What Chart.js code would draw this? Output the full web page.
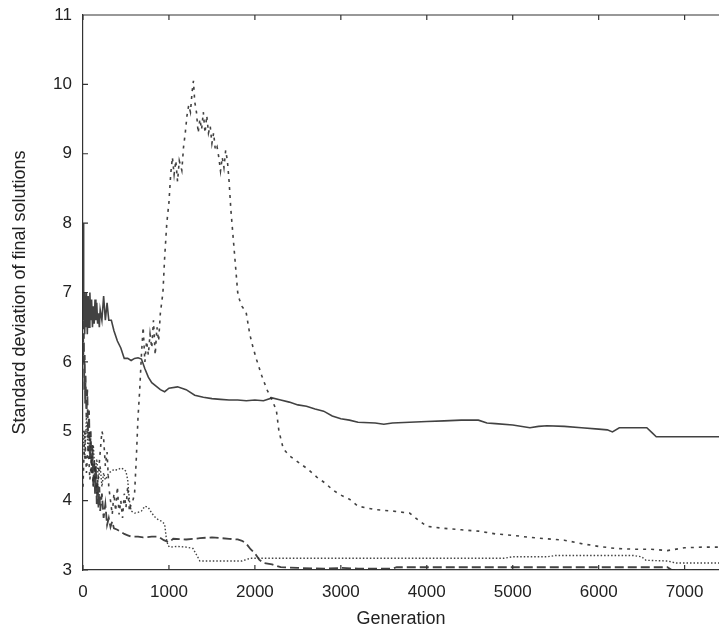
<!DOCTYPE html>
<html>
<head>
<meta charset="utf-8">
<script src="https://cdn.jsdelivr.net/npm/chart.js@4"></script>
<style>
  html, body { margin: 0; padding: 0; background: #fff; }
  #wrap { width: 719px; height: 630px; }
</style>
</head>
<body>
<div id="wrap"><canvas id="sdChart" width="719" height="630"></canvas></div>
<script>
// tick labels
const xTicks = [0, 1000, 2000, 3000, 4000, 5000, 6000, 7000];
const yTicks = [3, 4, 5, 6, 7, 8, 9, 10, 11];

// solid line
const solidGen = [0, 5, 10, 15, 20, 25, 30, 40, 50, 60, 70, 80, 90, 100, 110, 120, 130, 140, 150, 160, 170, 180, 190, 200, 220, 240, 260, 280, 300, 330, 360, 400, 440, 480, 520, 560, 600, 640, 680, 720, 760, 800, 850, 900, 950, 1000, 1100, 1200, 1300, 1400, 1500, 1600, 1700, 1800, 1900, 2000, 2100, 2200, 2300, 2400, 2500, 2600, 2700, 2800, 2900, 3000, 3100, 3200, 3400, 3500, 3600, 3800, 4000, 4200, 4400, 4600, 4700, 4800, 5000, 5200, 5300, 5400, 5600, 5800, 6000, 6100, 6160, 6240, 6400, 6560, 6620, 6670, 6800, 7000, 7200, 7400];
const solidVal = [8.0, 7.2, 6.6, 7.0, 6.4, 6.9, 6.5, 7.0, 6.4, 6.95, 6.5, 7.0, 6.6, 6.9, 6.5, 6.8, 6.55, 6.9, 6.6, 6.85, 6.55, 6.7, 6.5, 6.75, 6.6, 6.95, 6.6, 6.85, 6.6, 6.6, 6.45, 6.3, 6.2, 6.05, 6.05, 6.02, 6.05, 6.06, 6.04, 5.9, 5.78, 5.7, 5.65, 5.6, 5.57, 5.62, 5.64, 5.6, 5.52, 5.49, 5.47, 5.46, 5.45, 5.45, 5.44, 5.45, 5.44, 5.48, 5.45, 5.42, 5.38, 5.36, 5.32, 5.29, 5.22, 5.18, 5.16, 5.13, 5.12, 5.10, 5.12, 5.13, 5.14, 5.15, 5.16, 5.16, 5.12, 5.11, 5.09, 5.05, 5.07, 5.08, 5.07, 5.05, 5.03, 5.02, 4.99, 5.05, 5.05, 5.05, 4.98, 4.92, 4.92, 4.92, 4.92, 4.92];

// short dashed line (the big peak)
const peakGen = [0, 20, 40, 60, 80, 100, 120, 140, 160, 180, 200, 220, 240, 260, 280, 300, 320, 340, 360, 380, 400, 420, 440, 460, 480, 500, 520, 540, 560, 580, 600, 620, 640, 660, 680, 700, 720, 740, 760, 780, 800, 820, 840, 860, 880, 900, 930, 950, 975, 1000, 1020, 1040, 1060, 1080, 1100, 1120, 1150, 1170, 1190, 1210, 1230, 1250, 1270, 1285, 1300, 1320, 1340, 1360, 1380, 1400, 1420, 1440, 1460, 1480, 1500, 1520, 1540, 1560, 1580, 1600, 1620, 1640, 1660, 1680, 1700, 1720, 1740, 1760, 1780, 1800, 1820, 1850, 1880, 1900, 1940, 1980, 2020, 2080, 2140, 2200, 2250, 2280, 2330, 2400, 2520, 2620, 2720, 2820, 2910, 3000, 3100, 3200, 3400, 3600, 3800, 3900, 4000, 4200, 4400, 4600, 4800, 5000, 5200, 5400, 5600, 5800, 6000, 6200, 6400, 6600, 6800, 7000, 7200, 7400];
const peakVal = [4.2, 5.0, 4.4, 4.8, 4.3, 4.6, 4.2, 4.5, 4.1, 4.4, 4.7, 5.0, 4.9, 4.5, 4.7, 4.2, 4.0, 3.8, 4.1, 3.85, 4.2, 3.8, 4.0, 3.75, 4.1, 3.9, 4.2, 3.85, 3.95, 4.0, 4.1, 4.6, 5.2, 5.6, 6.1, 6.5, 6.0, 6.3, 6.1, 6.4, 6.2, 6.6, 6.1, 6.5, 6.3, 6.7, 7.0, 7.5, 8.0, 8.3, 8.7, 8.95, 8.7, 8.9, 8.6, 8.9, 8.76, 9.1, 9.3, 9.55, 9.7, 9.6, 9.9, 10.05, 9.75, 9.6, 9.3, 9.5, 9.35, 9.6, 9.3, 9.55, 9.3, 9.4, 9.15, 9.3, 9.05, 9.1, 8.95, 8.75, 8.95, 8.8, 9.05, 8.9, 8.6, 8.2, 7.9, 7.6, 7.3, 7.0, 6.9, 6.8, 6.75, 6.7, 6.4, 6.2, 6.03, 5.8, 5.6, 5.45, 5.3, 5.0, 4.75, 4.65, 4.54, 4.45, 4.34, 4.25, 4.15, 4.08, 4.02, 3.92, 3.87, 3.85, 3.82, 3.72, 3.63, 3.6, 3.58, 3.56, 3.52, 3.5, 3.47, 3.45, 3.43, 3.38, 3.34, 3.31, 3.3, 3.3, 3.28, 3.32, 3.33, 3.33];

// dotted line
const dotGen = [0, 20, 40, 60, 80, 100, 120, 140, 160, 180, 200, 220, 240, 260, 280, 300, 330, 360, 400, 440, 480, 500, 520, 540, 560, 600, 640, 680, 720, 760, 800, 840, 880, 920, 950, 970, 990, 1010, 1100, 1200, 1280, 1320, 1360, 1500, 1700, 1850, 1900, 1950, 2200, 2600, 3000, 3400, 3800, 4200, 4600, 4900, 5000, 5400, 5500, 6000, 6400, 6500, 6550, 6800, 6900, 7400];
const dotVal = [5.0, 4.6, 5.2, 4.7, 5.0, 4.5, 4.8, 4.4, 4.6, 4.3, 4.5, 4.2, 4.4, 4.3, 4.35, 4.4, 4.42, 4.45, 4.44, 4.47, 4.45, 4.42, 4.3, 4.0, 3.85, 3.82, 3.83, 3.85, 3.92, 3.9, 3.82, 3.76, 3.72, 3.7, 3.66, 3.45, 3.35, 3.33, 3.34, 3.33, 3.31, 3.22, 3.13, 3.13, 3.13, 3.13, 3.15, 3.17, 3.17, 3.17, 3.17, 3.17, 3.17, 3.17, 3.17, 3.17, 3.19, 3.19, 3.21, 3.21, 3.21, 3.19, 3.14, 3.13, 3.1, 3.1];

// long dashed line
const longGen = [0, 5, 10, 15, 20, 25, 30, 40, 50, 60, 70, 80, 90, 100, 110, 120, 130, 140, 150, 160, 170, 180, 190, 200, 220, 240, 260, 280, 300, 320, 340, 360, 400, 440, 480, 520, 560, 640, 700, 800, 880, 940, 1000, 1050, 1200, 1300, 1360, 1500, 1600, 1700, 1800, 1850, 1900, 1950, 2000, 2050, 2100, 2200, 2300, 2500, 2800, 3000, 3200, 3400, 3600, 3650, 4000, 5000, 6000, 6800, 6850, 7400];
const longVal = [6.6, 6.0, 6.4, 5.6, 6.1, 5.4, 5.8, 5.2, 5.6, 4.9, 5.3, 4.6, 5.0, 4.4, 4.8, 4.2, 4.6, 4.1, 4.5, 3.95, 4.3, 3.9, 4.2, 3.85, 4.1, 3.75, 3.95, 3.65, 3.75, 3.62, 3.7, 3.6, 3.58, 3.55, 3.52, 3.5, 3.48, 3.48, 3.47, 3.48, 3.48, 3.43, 3.4, 3.45, 3.44, 3.45, 3.46, 3.47, 3.46, 3.45, 3.44, 3.42, 3.38, 3.3, 3.24, 3.15, 3.1, 3.08, 3.04, 3.03, 3.02, 3.03, 3.02, 3.02, 3.02, 3.04, 3.04, 3.04, 3.04, 3.04, 3.0, 3.0];

function toPoints(gen, val) {
  return gen.map((g, i) => ({ x: g, y: val[i] }));
}

const ink = "#333";
const lineInk = "rgba(45,45,45,0.9)";
const font = "Liberation Sans, Arial, sans-serif";

// frame top edge + small inward ticks, like the printed figure
const framePlugin = {
  id: "frame",
  afterDraw(chart) {
    const { ctx, chartArea } = chart;
    const xs = chart.scales.x;
    const ys = chart.scales.y;
    ctx.save();
    ctx.strokeStyle = ink;
    ctx.lineWidth = 1.2;
    ctx.beginPath();
    ctx.moveTo(chartArea.left, chartArea.top);
    ctx.lineTo(chartArea.right, chartArea.top);
    xTicks.forEach((t) => {
      const px = xs.getPixelForValue(t);
      ctx.moveTo(px, chartArea.bottom);
      ctx.lineTo(px, chartArea.bottom - 5);
      ctx.moveTo(px, chartArea.top);
      ctx.lineTo(px, chartArea.top + 5);
    });
    yTicks.forEach((t) => {
      const py = ys.getPixelForValue(t);
      ctx.moveTo(chartArea.left, py);
      ctx.lineTo(chartArea.left + 5, py);
    });
    ctx.stroke();
    ctx.restore();
  },
};

const ctx = document.getElementById("sdChart").getContext("2d");

new Chart(ctx, {
  type: "line",
  data: {
    datasets: [
      {
        label: "solid",
        data: toPoints(solidGen, solidVal),
        borderColor: lineInk,
        borderWidth: 1.6,
      },
      {
        label: "dashed",
        data: toPoints(peakGen, peakVal),
        borderColor: lineInk,
        borderWidth: 1.6,
        borderDash: [3, 5],
      },
      {
        label: "dotted",
        data: toPoints(dotGen, dotVal),
        borderColor: lineInk,
        borderWidth: 1.4,
        borderDash: [1.5, 2],
      },
      {
        label: "long dash",
        data: toPoints(longGen, longVal),
        borderColor: lineInk,
        borderWidth: 1.8,
        borderDash: [9, 4],
      },
    ],
  },
  options: {
    responsive: false,
    animation: false,
    layout: { padding: { top: 15, right: 0, bottom: 0, left: 0 } },
    elements: { point: { radius: 0 }, line: { tension: 0 } },
    plugins: { legend: { display: false }, tooltip: { enabled: false } },
    scales: {
      x: {
        type: "linear",
        min: 0,
        max: 7400,
        afterBuildTicks(scale) {
          scale.ticks = xTicks.map((v) => ({ value: v }));
        },
        afterFit(scale) {
          scale.height = 60;
          scale.paddingLeft = 0;
          scale.paddingRight = 0;
        },
        grid: { display: false, drawTicks: false },
        border: { display: true, color: ink, width: 1.2 },
        ticks: {
          padding: 12,
          color: "#222",
          font: { family: font, size: 17 },
          maxRotation: 0,
          callback: (v) => String(v),
        },
        title: {
          display: true,
          text: "Generation",
          color: "#222",
          padding: { top: 0, bottom: 0 },
          font: { family: font, size: 18 },
        },
      },
      y: {
        min: 3,
        max: 11,
        afterBuildTicks(scale) {
          scale.ticks = yTicks.map((v) => ({ value: v }));
        },
        afterFit(scale) {
          scale.width = 83;
          scale.paddingTop = 0;
          scale.paddingBottom = 0;
        },
        grid: { display: false, drawTicks: false },
        border: { display: true, color: ink, width: 1.2 },
        ticks: {
          padding: 11,
          color: "#222",
          font: { family: font, size: 17 },
          callback: (v) => String(v),
        },
        title: {
          display: true,
          text: "Standard deviation of final solutions",
          color: "#222",
          padding: { top: 9, bottom: 0 },
          font: { family: font, size: 18 },
        },
      },
    },
  },
  plugins: [framePlugin],
});
</script>
</body>
</html>
